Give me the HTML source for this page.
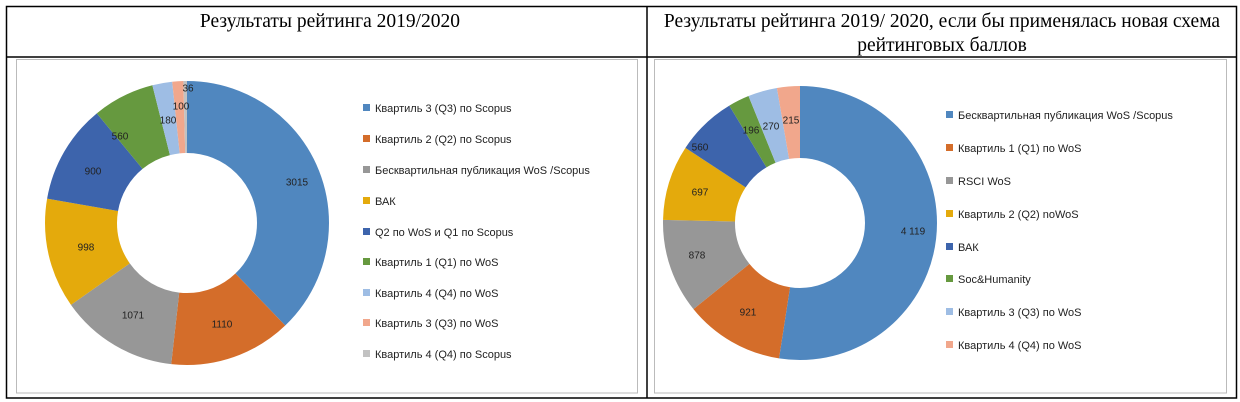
<!DOCTYPE html>
<html><head><meta charset="utf-8"><style>
body{margin:0;width:1240px;height:402px;background:#fff;overflow:hidden}
svg{display:block}
.t{font-family:"Liberation Serif",serif;font-size:19.5px;fill:#000}
.l{font-family:"Liberation Sans",sans-serif;font-size:11px;fill:#222}
.v{font-family:"Liberation Sans",sans-serif;font-size:10px;fill:#222;text-anchor:middle;dominant-baseline:middle}
</style></head><body>
<svg width="1240" height="402" viewBox="0 0 1240 402">
<rect x="6.5" y="6.5" width="1230" height="391.5" fill="none" stroke="#000" stroke-width="1.5"/>
<line x1="6" y1="57" x2="1237" y2="57" stroke="#000" stroke-width="1.5"/>
<line x1="647" y1="6" x2="647" y2="398" stroke="#000" stroke-width="1.5"/>
<rect x="16.5" y="59.5" width="621" height="333.5" fill="none" stroke="#bbb"/>
<rect x="654.5" y="59.5" width="572" height="333.5" fill="none" stroke="#bbb"/>
<text class="t" x="330" y="27" text-anchor="middle">Результаты рейтинга 2019/2020</text>
<text class="t" x="942" y="27" text-anchor="middle">Результаты рейтинга 2019/ 2020, если бы применялась новая схема</text>
<text class="t" x="942" y="51" text-anchor="middle">рейтинговых баллов</text>

<g transform="rotate(-90 187 223)" fill="none" stroke-width="72">
<circle cx="187" cy="223" r="106" stroke="#5087BF" stroke-dasharray="251.95 700" stroke-dashoffset="0"/>
<circle cx="187" cy="223" r="106" stroke="#D46D2A" stroke-dasharray="92.76 700" stroke-dashoffset="-251.95"/>
<circle cx="187" cy="223" r="106" stroke="#979797" stroke-dasharray="89.5 700" stroke-dashoffset="-344.71"/>
<circle cx="187" cy="223" r="106" stroke="#E4AA0C" stroke-dasharray="83.4 700" stroke-dashoffset="-434.21"/>
<circle cx="187" cy="223" r="106" stroke="#3D64AC" stroke-dasharray="75.21 700" stroke-dashoffset="-517.61"/>
<circle cx="187" cy="223" r="106" stroke="#66993F" stroke-dasharray="46.8 700" stroke-dashoffset="-592.82"/>
<circle cx="187" cy="223" r="106" stroke="#9EBDE4" stroke-dasharray="15.04 700" stroke-dashoffset="-639.62"/>
<circle cx="187" cy="223" r="106" stroke="#F1A78C" stroke-dasharray="8.36 700" stroke-dashoffset="-654.66"/>
<circle cx="187" cy="223" r="106" stroke="#C2C2C2" stroke-dasharray="3.01 700" stroke-dashoffset="-663.02"/>
</g>
<text class="v" x="297" y="183">3015</text><text class="v" x="222" y="325">1110</text>
<text class="v" x="133" y="316">1071</text><text class="v" x="86" y="248">998</text>
<text class="v" x="93" y="172">900</text><text class="v" x="120" y="137">560</text>
<text class="v" x="168" y="121">180</text><text class="v" x="181" y="107">100</text>
<text class="v" x="188" y="89">36</text>

<g class="l">
<rect x="363" y="104" width="7" height="7" fill="#5087BF"/><text x="375" y="112">Квартиль 3 (Q3) по Scopus</text>
<rect x="363" y="135" width="7" height="7" fill="#D46D2A"/><text x="375" y="143">Квартиль 2  (Q2) по Scopus</text>
<rect x="363" y="166" width="7" height="7" fill="#979797"/><text x="375" y="174">Бесквартильная  публикация WoS /Scopus</text>
<rect x="363" y="197" width="7" height="7" fill="#E4AA0C"/><text x="375" y="205">ВАК</text>
<rect x="363" y="228" width="7" height="7" fill="#3D64AC"/><text x="375" y="236">Q2 по WoS и Q1 по Scopus</text>
<rect x="363" y="258" width="7" height="7" fill="#66993F"/><text x="375" y="266">Квартиль 1 (Q1) по WoS</text>
<rect x="363" y="289" width="7" height="7" fill="#9EBDE4"/><text x="375" y="297">Квартиль 4 (Q4) по WoS</text>
<rect x="363" y="319" width="7" height="7" fill="#F1A78C"/><text x="375" y="327">Квартиль 3 (Q3) по WoS</text>
<rect x="363" y="350" width="7" height="7" fill="#C2C2C2"/><text x="375" y="358">Квартиль 4 (Q4) по Scopus</text>
</g>

<g transform="rotate(-90 800 223)" fill="none" stroke-width="72">
<circle cx="800" cy="223" r="101" stroke="#5087BF" stroke-dasharray="332.73 700" stroke-dashoffset="0"/>
<circle cx="800" cy="223" r="101" stroke="#D46D2A" stroke-dasharray="74.4 700" stroke-dashoffset="-332.73"/>
<circle cx="800" cy="223" r="101" stroke="#979797" stroke-dasharray="70.93 700" stroke-dashoffset="-407.13"/>
<circle cx="800" cy="223" r="101" stroke="#E4AA0C" stroke-dasharray="56.3 700" stroke-dashoffset="-478.06"/>
<circle cx="800" cy="223" r="101" stroke="#3D64AC" stroke-dasharray="45.24 700" stroke-dashoffset="-534.36"/>
<circle cx="800" cy="223" r="101" stroke="#66993F" stroke-dasharray="15.83 700" stroke-dashoffset="-579.6"/>
<circle cx="800" cy="223" r="101" stroke="#9EBDE4" stroke-dasharray="21.81 700" stroke-dashoffset="-595.43"/>
<circle cx="800" cy="223" r="101" stroke="#F1A78C" stroke-dasharray="17.37 700" stroke-dashoffset="-617.24"/>
</g>
<text class="v" x="913" y="232">4 119</text><text class="v" x="748" y="313">921</text>
<text class="v" x="697" y="256">878</text><text class="v" x="700" y="193">697</text>
<text class="v" x="700" y="148">560</text><text class="v" x="751" y="131">196</text>
<text class="v" x="771" y="127">270</text><text class="v" x="791" y="121">215</text>

<g class="l">
<rect x="946" y="111" width="7" height="7" fill="#5087BF"/><text x="958" y="119">Бесквартильная публикация WoS /Scopus</text>
<rect x="946" y="144" width="7" height="7" fill="#D46D2A"/><text x="958" y="152">Квартиль 1 (Q1) по WoS</text>
<rect x="946" y="177" width="7" height="7" fill="#979797"/><text x="958" y="185">RSCI WoS</text>
<rect x="946" y="210" width="7" height="7" fill="#E4AA0C"/><text x="958" y="218">Квартиль 2 (Q2) noWoS</text>
<rect x="946" y="243" width="7" height="7" fill="#3D64AC"/><text x="958" y="251">ВАК</text>
<rect x="946" y="275" width="7" height="7" fill="#66993F"/><text x="958" y="283">Soc&amp;Humanity</text>
<rect x="946" y="308" width="7" height="7" fill="#9EBDE4"/><text x="958" y="316">Квартиль 3 (Q3) по WoS</text>
<rect x="946" y="341" width="7" height="7" fill="#F1A78C"/><text x="958" y="349">Квартиль 4 (Q4) по WoS</text>
</g>
</svg>
</body></html>
